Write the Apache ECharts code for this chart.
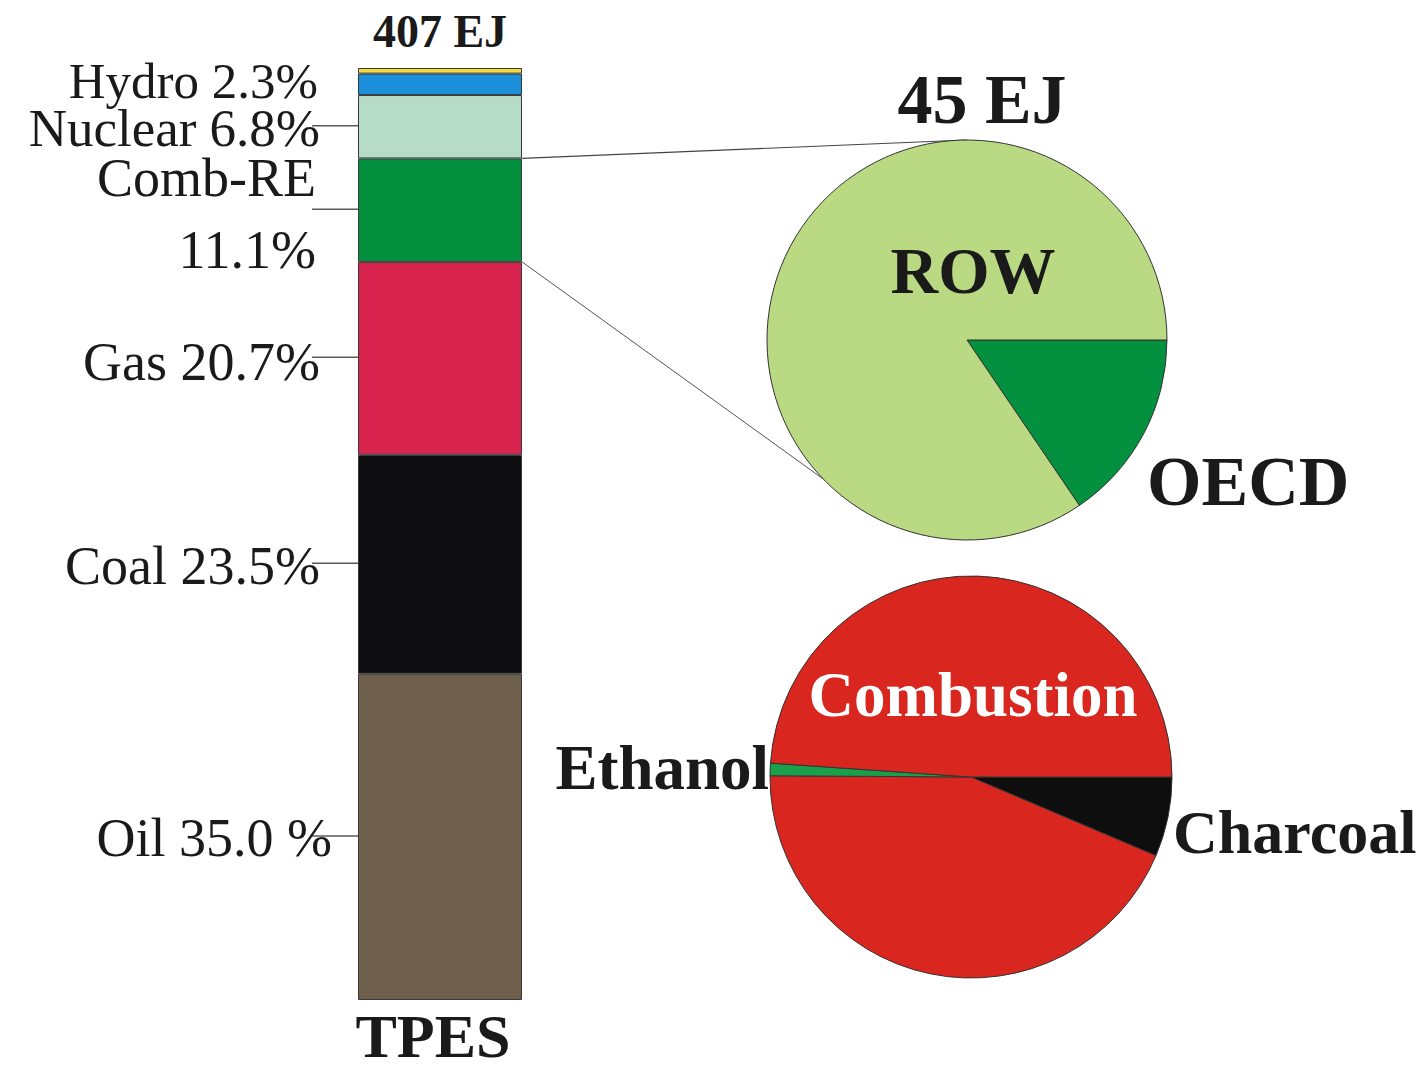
<!DOCTYPE html>
<html>
<head>
<meta charset="utf-8">
<title>TPES and combustible renewables</title>
<script src="https://cdn.jsdelivr.net/npm/echarts@6/dist/echarts.min.js"></script>
<style>
  html, body { margin: 0; padding: 0; background: #ffffff; }
  #chart { width: 1421px; height: 1073px; }
</style>
</head>
<body>
<div id="chart"></div>
<script>
// ---- Data -------------------------------------------------------------
// Total primary energy supply, shares in percent, stacked bottom to top
const sources = ['Oil', 'Coal', 'Gas', 'Comb-RE', 'Nuclear', 'Hydro', 'Other'];
const sharePct = [35.0, 23.5, 20.7, 11.1, 6.8, 2.3, 0.6];
const totalEJ = 407;
const barCategory = ['TPES'];

// Combustible renewables split by region (percent of 45 EJ)
const regionNames = ['OECD', 'ROW'];
const regionShare = [15.5, 84.5];
const combRETotalEJ = 45;

// Combustible renewables split by use (percent), clockwise from east
const useNames = ['Charcoal', 'Combustion', 'Ethanol', 'Combustion'];
const useShare = [6.4, 43.7, 1.0, 48.9];

// ---- Styling -------------------------------------------------------------
const serif = '"Liberation Serif", "DejaVu Serif", "Times New Roman", serif';
const ink = '#1a1a1a';
const sourceColors = ['#6e604c', '#0e0e10', '#d9234f', '#03903f', '#b6dcc8', '#1b8fd9', '#f0dc3c'];
const regionColors = ['#03903f', '#b9da83'];
const useColors = ['#0e0e0e', '#d9261e', '#1aa04a', '#d9261e'];

// label distance from the bar's left edge, vertical nudge, size and line height, per source
const labelDistance = [26, 38, 38, 42, 38, 40, 12];
const labelNudge = [1, 2, 4, 4, 1, -3, 0];
const labelSize = [54, 54, 54, 54, 53, 51, 46];
const labelLineHeight = [60, 60, 60, 72, 46, 44, 50];
const hasLeader = [true, true, true, true, true, false, false];

const GRID = { left: 358, top: 68, width: 164, height: 932 };
const PIE_REGION = { center: [967, 340], radius: 200 };
const PIE_USE = { center: [971, 777], radius: 201 };

function sourceText(i) {
  const name = sources[i];
  const v = sharePct[i].toFixed(1);
  if (name === 'Comb-RE') return name + '\n' + v + '%';
  if (name === 'Oil') return name + ' ' + v + ' %';
  return name + ' ' + v + '%';
}

const barSeries = sources.map((name, i) => {
  const isTop = i === sources.length - 1;
  return {
    name: name,
    type: 'bar',
    stack: 'tpes',
    barWidth: '100%',
    silent: true,
    data: [sharePct[i]],
    itemStyle: { color: sourceColors[i], borderColor: '#3a3a3a', borderWidth: 1 },
    label: isTop ? {
      show: true,
      position: 'top',
      distance: labelDistance[i],
      formatter: totalEJ + ' EJ',
      fontFamily: serif,
      fontWeight: 'bold',
      fontSize: labelSize[i],
      lineHeight: labelLineHeight[i],
      color: ink
    } : {
      show: true,
      position: 'left',
      distance: labelDistance[i],
      offset: [0, labelNudge[i]],
      formatter: () => sourceText(i),
      fontFamily: serif,
      fontSize: labelSize[i],
      lineHeight: labelLineHeight[i],
      align: 'right',
      color: ink
    }
  };
});

// label anchors for the pie slices: [dx from centre, dy from centre, align]
const regionLabelAt = [[180, 141, 'left'], [6, -70, 'center']];
const useLabelAt = [[202, 55, 'left'], null, [-202, -9, 'right'], [2, -82, 'center']];
const regionLabelStyle = [{ fontSize: 70 }, { fontSize: 66 }];
const useLabelStyle = [{ fontSize: 62 }, {}, { fontSize: 63 }, { fontSize: 63, color: '#ffffff' }];

function pieLabelLayout(anchor, center) {
  return function (p) {
    const a = anchor[p.dataIndex];
    if (!a) return {};
    return { x: center[0] + a[0], y: center[1] + a[1], align: a[2], verticalAlign: 'middle' };
  };
}

const regionPie = {
  type: 'pie',
  silent: true,
  center: PIE_REGION.center,
  radius: PIE_REGION.radius,
  startAngle: 0,
  clockwise: true,
  avoidLabelOverlap: false,
  itemStyle: { borderColor: '#333333', borderWidth: 1 },
  label: { show: true, position: 'inside', formatter: '{b}', fontFamily: serif, fontWeight: 'bold', color: ink },
  labelLine: { show: false },
  labelLayout: pieLabelLayout(regionLabelAt, PIE_REGION.center),
  data: regionNames.map((n, i) => ({
    name: n, value: regionShare[i],
    itemStyle: { color: regionColors[i] },
    label: regionLabelStyle[i]
  }))
};

const usePie = {
  type: 'pie',
  silent: true,
  center: PIE_USE.center,
  radius: PIE_USE.radius,
  startAngle: 0,
  clockwise: true,
  avoidLabelOverlap: false,
  itemStyle: { borderColor: '#333333', borderWidth: 1 },
  label: { show: true, position: 'inside', formatter: '{b}', fontFamily: serif, fontWeight: 'bold', color: ink },
  labelLine: { show: false },
  labelLayout: pieLabelLayout(useLabelAt, PIE_USE.center),
  data: useNames.map((n, i) => ({
    name: n, value: useShare[i],
    itemStyle: { color: useColors[i] },
    label: Object.assign({ show: useLabelAt[i] !== null }, useLabelStyle[i])
  }))
};

const chart = echarts.init(document.getElementById('chart'), null, { renderer: 'svg' });

chart.setOption({
  animation: false,
  backgroundColor: '#ffffff',
  grid: Object.assign({ containLabel: false, outerBoundsMode: 'none' }, GRID),
  xAxis: {
    type: 'category',
    data: barCategory,
    axisLine: { show: false },
    axisTick: { show: false },
    axisLabel: {
      margin: 36,
      verticalAlign: 'middle',
      padding: [0, 14, 0, 0],
      fontFamily: serif,
      fontWeight: 'bold',
      fontSize: 62,
      lineHeight: 60,
      color: ink
    }
  },
  yAxis: { type: 'value', min: 0, max: 100, show: false },
  series: barSeries.concat([regionPie, usePie])
});

// ---- Leader lines, connectors and the 45 EJ heading ---------------------
const xCenter = chart.convertToPixel({ xAxisIndex: 0 }, barCategory[0]);
const barLeft = xCenter - GRID.width / 2;
const barRight = xCenter + GRID.width / 2;
const cum = [];
sharePct.reduce((acc, v) => { cum.push(acc); return acc + v; }, 0);
const yAt = (v) => chart.convertToPixel({ yAxisIndex: 0 }, v);

const graphics = [];
sources.forEach((name, i) => {
  if (!hasLeader[i]) return;
  const y = yAt(cum[i] + sharePct[i] / 2) - 1;
  graphics.push({
    type: 'line', silent: true,
    shape: { x1: 312, y1: y, x2: barLeft, y2: y },
    style: { stroke: '#5a5a5a', lineWidth: 1.5 }
  });
});

const ci = sources.indexOf('Comb-RE');
const combTop = yAt(cum[ci] + sharePct[ci]);
const combBottom = yAt(cum[ci]);
const pc = PIE_REGION.center, pr = PIE_REGION.radius;
const lowAngle = 136 * Math.PI / 180;
graphics.push({
  type: 'line', silent: true,
  shape: { x1: barRight, y1: combTop, x2: pc[0], y2: pc[1] - pr },
  style: { stroke: '#444444', lineWidth: 1.2 }
});
graphics.push({
  type: 'line', silent: true,
  shape: { x1: barRight, y1: combBottom, x2: pc[0] + pr * Math.cos(lowAngle), y2: pc[1] + pr * Math.sin(lowAngle) },
  style: { stroke: '#555555', lineWidth: 1 }
});
graphics.push({
  type: 'text', silent: true,
  x: pc[0] + 15, y: pc[1] - pr - 41,
  style: {
    text: combRETotalEJ + ' EJ',
    font: 'bold 70px ' + serif,
    fill: ink,
    textAlign: 'center',
    textVerticalAlign: 'middle'
  }
});

chart.setOption({ graphic: graphics });
</script>
</body>
</html>
